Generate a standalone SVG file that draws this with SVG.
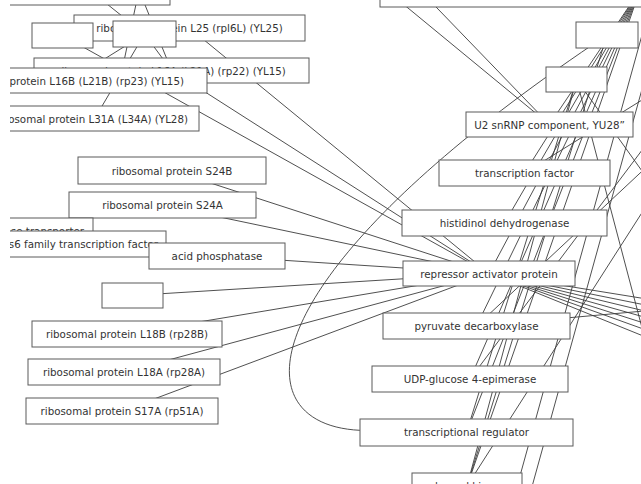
<svg xmlns="http://www.w3.org/2000/svg" width="641" height="484" viewBox="0 0 641 484">
<style>
.e{stroke:#3c3c3c;stroke-width:0.9;fill:none}
.n rect{fill:#fff;stroke:#5a5a5a;stroke-width:1}
.n text{font-family:"DejaVu Sans",sans-serif;font-size:10.3px;fill:#333;text-anchor:middle}
.n text.r{text-anchor:end}
</style>
<rect width="641" height="484" fill="#fff"/>
<g id="edges">
<line class="e" x1="189.5" y1="28" x2="489" y2="273.5"/>
<line class="e" x1="171.5" y1="70.5" x2="489" y2="273.5"/>
<line class="e" x1="172" y1="170.5" x2="489" y2="273.5"/>
<line class="e" x1="162.5" y1="205" x2="489" y2="273.5"/>
<line class="e" x1="217" y1="256" x2="489" y2="273.5"/>
<line class="e" x1="132.5" y1="295.5" x2="489" y2="273.5"/>
<line class="e" x1="127" y1="334" x2="489" y2="273.5"/>
<line class="e" x1="124" y1="372" x2="489" y2="273.5"/>
<line class="e" x1="122" y1="411" x2="489" y2="273.5"/>
<line class="e" x1="62.5" y1="35.5" x2="489" y2="273.5"/>
<line class="e" x1="92" y1="-8" x2="144.5" y2="34"/>
<line class="e" x1="139" y1="-10" x2="171.5" y2="70.5"/>
<line class="e" x1="139" y1="-10" x2="120" y2="80"/>
<line class="e" x1="144.5" y1="34" x2="70" y2="80.5"/>
<line class="e" x1="144.5" y1="34" x2="95" y2="118"/>
<line class="e" x1="144.5" y1="34" x2="171.5" y2="70.5"/>
<line class="e" x1="374" y1="-20" x2="549.5" y2="124.5"/>
<line class="e" x1="410" y1="-20" x2="549.5" y2="124.5"/>
<line class="e" x1="640" y1="-10" x2="549.5" y2="124.5"/>
<line class="e" x1="640" y1="-10" x2="524.5" y2="173"/>
<line class="e" x1="640" y1="-10" x2="504.5" y2="223"/>
<line class="e" x1="640" y1="-10" x2="489" y2="273.5"/>
<line class="e" x1="640" y1="-10" x2="476.5" y2="326"/>
<line class="e" x1="640" y1="-10" x2="470" y2="379"/>
<line class="e" x1="640" y1="-10" x2="466.5" y2="432.5"/>
<line class="e" x1="640" y1="-10" x2="467" y2="486"/>
<line class="e" x1="576.5" y1="79.5" x2="466.5" y2="432.5"/>
<line class="e" x1="576.5" y1="79.5" x2="467" y2="486"/>
<line class="e" x1="576.5" y1="79.5" x2="700" y2="252"/>
<line class="e" x1="576.5" y1="79.5" x2="660" y2="396"/>
<line class="e" x1="607" y1="35" x2="467" y2="486"/>
<line class="e" x1="700" y1="64" x2="524.5" y2="173"/>
<line class="e" x1="700" y1="73" x2="470" y2="379"/>
<line class="e" x1="700" y1="117" x2="476.5" y2="326"/>
<line class="e" x1="700" y1="122" x2="467" y2="486"/>
<line class="e" x1="660" y1="-30" x2="505" y2="530"/>
<line class="e" x1="675" y1="-30" x2="520" y2="530"/>
<line class="e" x1="489" y1="273.5" x2="700" y2="307.6"/>
<line class="e" x1="489" y1="273.5" x2="700" y2="316"/>
<line class="e" x1="489" y1="273.5" x2="700" y2="324.3"/>
<line class="e" x1="489" y1="273.5" x2="700" y2="332.7"/>
<line class="e" x1="489" y1="273.5" x2="700" y2="341"/>
<line class="e" x1="489" y1="273.5" x2="700" y2="349.4"/>
<line class="e" x1="489" y1="273.5" x2="700" y2="359"/>
<line class="e" x1="476.5" y1="326" x2="700" y2="306"/>
<path class="e" d="M380,430 C240,440 225,290 607,35"/>
</g>
<g id="n-tl" class="n"><rect x="-60" y="-21" width="230" height="26"/></g>
<g id="n-tr" class="n"><rect x="380" y="-19" width="300" height="26"/></g>
<g id="n-l25" class="n"><rect x="74" y="15" width="231" height="26"/><text x="189.5" y="32">ribosomal protein L25 (rpl6L) (YL25)</text></g>
<g id="n-a" class="n"><rect x="32" y="23" width="61" height="25"/></g>
<g id="n-b" class="n"><rect x="113" y="21" width="63" height="26"/></g>
<g id="n-l16a" class="n"><rect x="34" y="58" width="275" height="25"/><text x="171.5" y="74.5">ribosomal protein L16A (L21A) (rp22) (YL15)</text></g>
<g id="n-l16b" class="n"><rect x="-66" y="68" width="273" height="25"/><text class="r" x="184" y="84.5">ribosomal protein L16B (L21B) (rp23) (YL15)</text></g>
<g id="n-l31a" class="n"><rect x="-30" y="106" width="229" height="25"/><text class="r" x="188" y="122.5">ribosomal protein L31A (L34A) (YL28)</text></g>
<g id="n-c" class="n"><rect x="576" y="22" width="62" height="26"/></g>
<g id="n-d" class="n"><rect x="546" y="67" width="61" height="25"/></g>
<g id="n-u2" class="n"><rect x="466" y="112" width="167" height="25"/><text x="549.5" y="128.5">U2 snRNP component, YU28”</text></g>
<g id="n-tf" class="n"><rect x="439" y="160" width="171" height="26"/><text x="524.5" y="177">transcription factor</text></g>
<g id="n-hd" class="n"><rect x="402" y="210" width="205" height="26"/><text x="504.5" y="227">histidinol dehydrogenase</text></g>
<g id="n-rap" class="n"><rect x="403" y="261" width="172" height="25"/><text x="489" y="277.5">repressor activator protein</text></g>
<g id="n-s24b" class="n"><rect x="78" y="157" width="188" height="27"/><text x="172" y="174.5">ribosomal protein S24B</text></g>
<g id="n-s24a" class="n"><rect x="69" y="192" width="187" height="26"/><text x="162.5" y="209">ribosomal protein S24A</text></g>
<g id="n-tp" class="n"><rect x="-30" y="218" width="123" height="26"/><text class="r" x="84" y="234.5">hexose transporter</text></g>
<g id="n-ftf" class="n"><rect x="-120" y="231" width="286" height="26"/><text class="r" x="158" y="247.5">Zn(II)2Cys6 family transcription factor</text></g>
<g id="n-ap" class="n"><rect x="149" y="243" width="136" height="26"/><text x="217" y="259.5">acid phosphatase</text></g>
<g id="n-e" class="n"><rect x="102" y="283" width="61" height="25"/></g>
<g id="n-l18b" class="n"><rect x="32" y="321" width="190" height="26"/><text x="127" y="337.5">ribosomal protein L18B (rp28B)</text></g>
<g id="n-l18a" class="n"><rect x="28" y="359" width="192" height="26"/><text x="124" y="375.5">ribosomal protein L18A (rp28A)</text></g>
<g id="n-s17a" class="n"><rect x="26" y="398" width="192" height="26"/><text x="122" y="414.5">ribosomal protein S17A (rp51A)</text></g>
<g id="n-pd" class="n"><rect x="383" y="313" width="187" height="26"/><text x="476.5" y="329.5">pyruvate decarboxylase</text></g>
<g id="n-udp" class="n"><rect x="372" y="366" width="196" height="26"/><text x="470" y="382.5">UDP-glucose 4-epimerase</text></g>
<g id="n-trreg" class="n"><rect x="360" y="419" width="213" height="27"/><text x="466.5" y="436">transcriptional regulator</text></g>
<g id="n-bot" class="n"><rect x="412" y="473" width="110" height="26"/><text x="467" y="490">glycerol kinase</text></g>
<rect x="0" y="0" width="10" height="484" fill="#fff"/>
</svg>
